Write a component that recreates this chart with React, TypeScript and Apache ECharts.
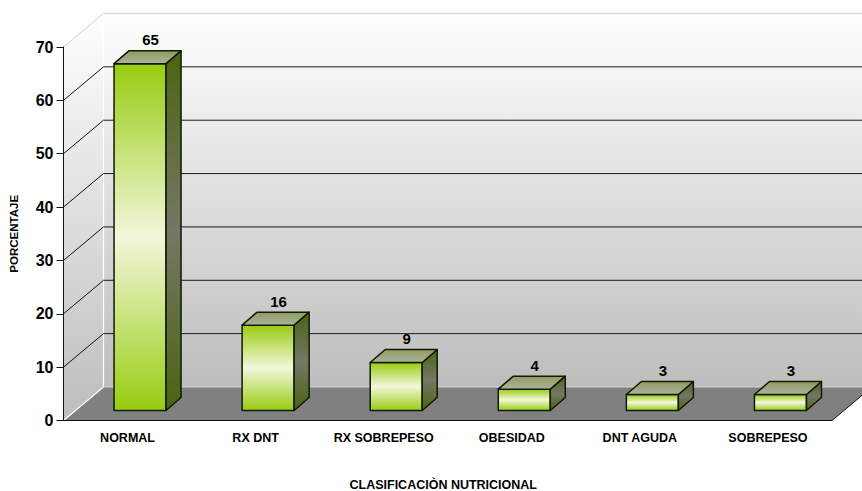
import React, { useEffect, useRef } from "react";
import * as echarts from "echarts";

const categories = ["NORMAL", "RX DNT", "RX SOBREPESO", "OBESIDAD", "DNT AGUDA", "SOBREPESO"];
const values = [65, 16, 9, 4, 3, 3];
const yTicks = [10, 20, 30, 40, 50, 60, 70];
const xTitle = "CLASIFICACIÒN NUTRICIONAL";
const yTitle = "PORCENTAJE";

const FONT = "'Liberation Sans', Arial, sans-serif";
const DEPTH_X = 40;
const DEPTH_Y = 33.5;
const BAR_SHIFT_X = 12.5;
const BAR_SHIFT_Y = 10;
const BAR_DX = 15;
const BAR_DY = 13;
const BAR_RATIO = 0.406;
const STROKE = "#111a00";

const vGrad = (stops: [number, string][]) =>
  new echarts.graphic.LinearGradient(0, 0, 0, 1, stops.map(([offset, color]) => ({ offset, color })));

function renderWalls(params: any) {
  const c = params.coordSys;
  const L = c.x, R = c.x + c.width, T = c.y, B = c.y + c.height;
  const bL = L + DEPTH_X, bR = R + DEPTH_X, bT = T - DEPTH_Y, bB = B - DEPTH_Y;
  return {
    type: "group",
    children: [
      { type: "polygon", shape: { points: [[bL, bT], [bR, bT], [bR, bB], [bL, bB]] },
        style: { fill: vGrad([[0, "#ffffff"], [1, "#bdbdbd"]]) } },
      { type: "polygon", shape: { points: [[L, T], [bL, bT], [bL, bB], [L, B]] },
        style: { fill: vGrad([[0, "#ffffff"], [1, "#bdbdbd"]]) } },
      { type: "polygon", shape: { points: [[L, B], [bL, bB], [bR, bB], [R, B]] },
        style: { fill: "#808080" } },
      { type: "line", shape: { x1: bL, y1: bT, x2: bR, y2: bT }, style: { stroke: "#dcdcdc", lineWidth: 1.5 } },
      { type: "line", shape: { x1: L, y1: T, x2: bL, y2: bT }, style: { stroke: "#dcdcdc", lineWidth: 1 } },
      { type: "line", shape: { x1: bL, y1: bT, x2: bL, y2: bB }, style: { stroke: "#ffffff", lineWidth: 1.2 } },
      { type: "line", shape: { x1: L, y1: B, x2: bL, y2: bB }, style: { stroke: "#ffffff", lineWidth: 1.2 } },
      { type: "line", shape: { x1: bL, y1: bB, x2: bR, y2: bB }, style: { stroke: "#d8d8d8", lineWidth: 1 } },
      { type: "line", shape: { x1: R, y1: B, x2: bR, y2: bB }, style: { stroke: "#111111", lineWidth: 1 } },
    ],
  };
}

function renderGridLine(params: any, api: any) {
  const c = params.coordSys;
  const y = api.coord([0, api.value(1)])[1];
  const L = c.x, R = c.x + c.width;
  const lines: any[] = [
    { type: "line", shape: { x1: L, y1: y, x2: L + DEPTH_X, y2: y - DEPTH_Y },
      style: { stroke: api.value(1) === 70 ? "#dcdcdc" : "#111111", lineWidth: 1 } },
  ];
  if (api.value(1) < 70) {
    lines.push({ type: "line", shape: { x1: L + DEPTH_X, y1: y - DEPTH_Y, x2: R + DEPTH_X, y2: y - DEPTH_Y },
      style: { stroke: "#1c1c1c", lineWidth: 1 } });
  }
  return { type: "group", children: lines };
}

function renderBar(params: any, api: any) {
  const i = api.value(0);
  const v = api.value(1);
  const base = api.coord([i, 0]);
  const topP = api.coord([i, v]);
  const w = api.size([1, 0])[0] * BAR_RATIO;
  const x0 = base[0] + BAR_SHIFT_X - w / 2;
  const x1 = x0 + w;
  const yB = base[1] - BAR_SHIFT_Y;
  const yT = topP[1] - BAR_SHIFT_Y;
  const border = { stroke: STROKE, lineWidth: 1.5, lineJoin: "round" };
  return {
    type: "group",
    children: [
      { type: "polygon", shape: { points: [[x0, yB], [x1, yB], [x1, yT], [x0, yT]] },
        style: { ...border, fill: vGrad([[0, "#98cc10"], [0.5, "#f2f7dc"], [1, "#98cc10"]]) } },
      { type: "polygon", shape: { points: [[x1, yB], [x1 + BAR_DX, yB - BAR_DY], [x1 + BAR_DX, yT - BAR_DY], [x1, yT]] },
        style: { ...border, fill: vGrad([[0, "#4b640f"], [0.5, "#757768"], [1, "#4b640f"]]) } },
      { type: "polygon", shape: { points: [[x0, yT], [x0 + BAR_DX, yT - BAR_DY], [x1 + BAR_DX, yT - BAR_DY], [x1, yT]] },
        style: { ...border, fill: vGrad([[0, "#8c9c62"], [1, "#aeb29c"]]) } },
      { type: "text", x: (x0 + x1) / 2 + 10.5, y: yT - BAR_DY - 11,
        style: { text: String(v), fill: "#000000", font: `bold 15px ${FONT}`, align: "center", verticalAlign: "middle" } },
    ],
  };
}

export default function App() {
  const ref = useRef<HTMLDivElement>(null);
  useEffect(() => {
    const chart = echarts.init(ref.current!, undefined, { renderer: "svg" });
    chart.setOption({
      animation: false,
      backgroundColor: "#ffffff",
      textStyle: { fontFamily: FONT },
      grid: { left: 63.5, top: 47, width: 768.5, height: 373.5, outerBoundsMode: "none", containLabel: false },
      xAxis: {
        type: "category",
        data: categories,
        z: 5,
        name: xTitle,
        nameLocation: "middle",
        nameGap: 58,
        nameTextStyle: { fontFamily: FONT, fontWeight: "bold", fontSize: 12.5, color: "#000", padding: [0, 9, 0, 0] },
        axisLine: { lineStyle: { color: "#111", width: 1 } },
        axisTick: { length: 7, lineStyle: { color: "#111" } },
        axisLabel: { interval: 0, margin: 10.5, fontFamily: FONT, fontWeight: "bold", fontSize: 12.5, color: "#000" },
      },
      yAxis: {
        type: "value",
        min: 0,
        max: 70,
        interval: 10,
        z: 5,
        name: yTitle,
        nameLocation: "middle",
        nameRotate: 90,
        nameGap: 44,
        nameTextStyle: { fontFamily: FONT, fontWeight: "bold", fontSize: 11.5, color: "#000" },
        splitLine: { show: false },
        axisLine: { show: true, lineStyle: { color: "#111", width: 1 } },
        axisTick: { show: true, length: 7, lineStyle: { color: "#111" } },
        axisLabel: { margin: 10, fontFamily: FONT, fontWeight: "bold", fontSize: 16, color: "#000" },
      },
      series: [
        { type: "custom", z: 1, silent: true, clip: false, data: [[0, 0]], renderItem: renderWalls },
        { type: "custom", z: 2, silent: true, clip: false, data: yTicks.map((t) => [0, t]), encode: { x: 0, y: 1 }, renderItem: renderGridLine },
        { type: "custom", z: 3, silent: true, clip: false, data: values.map((v, i) => [i, v]), encode: { x: 0, y: 1 }, renderItem: renderBar },
      ],
    });
    return () => chart.dispose();
  }, []);
  return <div ref={ref} style={{ position: "fixed", left: 0, top: 0, width: 862, height: 491 }} />;
}
